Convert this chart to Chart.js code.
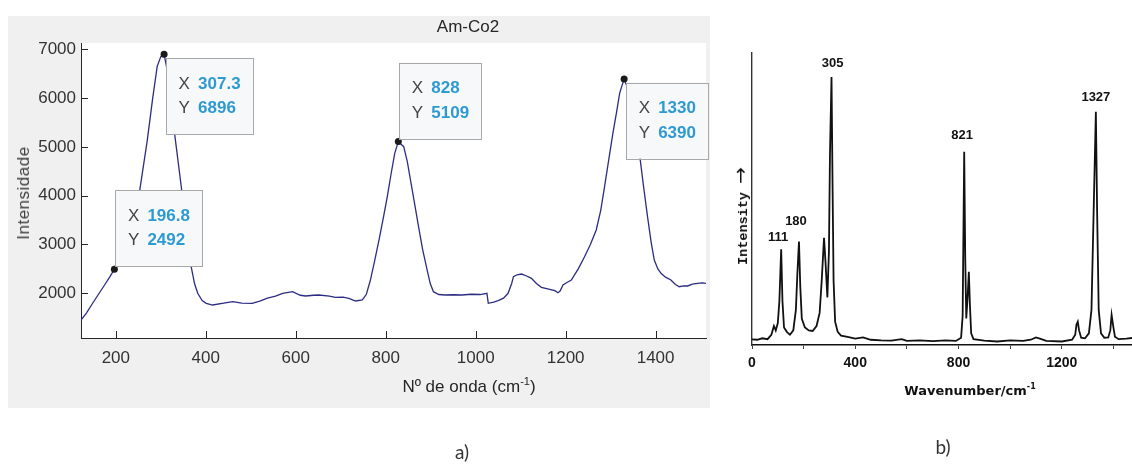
<!DOCTYPE html>
<html>
<head>
<meta charset="utf-8">
<script src="https://cdn.jsdelivr.net/npm/chart.js@4.4.1/dist/chart.umd.min.js"></script>
<style>
  body { margin: 0; width: 1132px; height: 464px; background: #fff; position: relative; overflow: hidden; font-family: "Liberation Sans", Arial, sans-serif; }
  #panelA { position: absolute; left: 8px; top: 16px; width: 702px; height: 392px; background: #f0f0f0; }
  #panelB { position: absolute; left: 720px; top: 0; width: 412px; height: 400px; }
  .lbl { position: absolute; white-space: nowrap; transform: translate(-50%, -50%); }
  .rot { transform: translate(-50%, -50%) rotate(-90deg); }
  sup { font-size: 11px; vertical-align: 7px; }
</style>
</head>
<body>
<div id="panelA"><canvas id="chartA" width="702" height="392"></canvas></div>
<div id="panelB"><canvas id="chartB" width="412" height="400"></canvas></div>

<div class="lbl" style="left:468px;top:27px;font-size:17px;color:#262626">Am-Co2</div>
<div class="lbl rot" style="left:24px;top:193px;font-size:17px;color:#404040;letter-spacing:0.5px">Intensidade</div>
<div class="lbl" style="left:469px;top:386px;font-size:17px;color:#262626">Nº de onda (cm<sup>-1</sup>)</div>
<div class="lbl" style="left:462px;top:451px;font-size:19px;color:#333;font-family:Lato, sans-serif">a)</div>

<div class="lbl rot" style="left:740px;top:216px;font-size:13.5px;color:#111;font-family:'Liberation Mono', monospace;font-weight:bold">Intensity <span style="font-size:20px;font-weight:normal;font-family:'DejaVu Sans', sans-serif">&rarr;</span></div>
<div class="lbl" style="left:970px;top:390px;font-size:13px;color:#111;font-weight:bold;font-family:'DejaVu Sans', sans-serif">Wavenumber/cm<sup style="font-size:8px;vertical-align:6px">-1</sup></div>
<div class="lbl" style="left:943px;top:446px;font-size:19px;color:#333;font-family:Lato, sans-serif">b)</div>

<script>
// a) measured spectrum
const aX = [122.6, 135, 146, 160, 175, 187, 196.8, 225, 253, 270, 282, 292, 300, 307.3, 318, 330.6, 345.5, 358, 367.5, 375,
  382, 392, 401, 415, 440, 460, 480, 503, 520, 537, 555, 571, 593, 610, 622, 640, 651, 675, 688, 705, 718, 733, 748, 757,
  766, 775, 785, 795, 803.5, 812, 820, 828, 840, 848, 855, 864, 873, 882, 892, 899, 906, 918, 932, 950, 969, 990, 1010,
  1025, 1028, 1040, 1050, 1062, 1072, 1080, 1084, 1092, 1102, 1112, 1124, 1135, 1146, 1160, 1176, 1183, 1188, 1194, 1203,
  1212.6, 1228, 1242, 1255, 1268, 1278, 1286.5, 1296, 1305, 1313, 1320, 1325, 1330, 1340, 1349, 1357, 1364, 1373, 1382,
  1390, 1397, 1405, 1412, 1422, 1434, 1444, 1452.6, 1462, 1471, 1482, 1493, 1504, 1512];
const aY = [1453, 1600, 1760, 1960, 2170, 2340, 2492, 3300, 4100, 5140, 6000, 6650, 6850, 6896, 6400, 5278, 4184, 3200, 2545, 2200,
  2000, 1850, 1795, 1760, 1800, 1828, 1800, 1795, 1840, 1900, 1940, 2000, 2033, 1960, 1945, 1960, 1965, 1940, 1918, 1920, 1898, 1842, 1863, 1980,
  2272, 2650, 3092, 3560, 3980, 4450, 4869, 5109, 5004, 4700, 4322, 3850, 3365, 2900, 2478, 2200, 2033, 1975, 1965, 1970, 1965, 1980, 1975,
  2000, 1795, 1820, 1850, 1900, 2000, 2200, 2340, 2380, 2395, 2360, 2307, 2200, 2122, 2090, 2053, 2012, 2050, 2170, 2220,
  2272, 2500, 2750, 3000, 3297, 3700, 4184, 4750, 5279, 5700, 6098, 6250, 6390, 6150, 5824, 5350, 4869, 4200, 3570,
  3050, 2682, 2500, 2410, 2330, 2272, 2180, 2135, 2150, 2150, 2190, 2205, 2215, 2205];
const aTipX = [196.8, 307.3, 828, 1330];
const aTipY = [2492, 6896, 5109, 6390];
const aXTicks = [200, 400, 600, 800, 1000, 1200, 1400];
const aYTicks = [2000, 3000, 4000, 5000, 6000, 7000];

// b) reference spectrum
const bX = [0, 20, 40, 60, 75, 85, 92, 100, 106, 113, 118, 124, 135, 147, 160, 170, 176, 182, 187, 193, 205, 220, 235, 250,
  262, 270, 279, 285, 292, 298, 302, 308, 312, 316, 322, 332, 345, 370, 400, 430, 460, 500, 540, 580, 600, 650, 700, 750,
  790, 810, 816, 822, 826, 830, 835, 840, 844, 849, 858, 900, 950, 1000, 1050, 1080, 1100, 1115, 1140, 1200, 1240, 1252,
  1257, 1262, 1267, 1275, 1290, 1305, 1315, 1322, 1332, 1337, 1343, 1352, 1365, 1380, 1388, 1393, 1400, 1406, 1420, 1450, 1472];
const bY = [1.9, 1.8, 2.3, 2.0, 3.5, 6.5, 5.0, 7.5, 15, 32.8, 15, 6, 4.5, 3.5, 5, 12, 25, 35.4, 20, 9, 6, 5, 4.8, 6.5,
  11, 22, 36.7, 28, 16.3, 32, 65, 91.8, 55, 22, 8, 4.5, 3.2, 2.8, 2.2, 2.6, 1.8, 1.6, 1.5, 2.0, 1.4, 1.6, 1.3, 1.6,
  1.4, 2.5, 10, 66.2, 30, 9.1, 16, 25.1, 14, 4, 2.0, 1.5, 1.2, 1.6, 1.4, 1.8, 2.6, 2.2, 1.4, 1.2, 1.8, 3.5,
  7, 8, 5, 2.5, 2.3, 4, 12, 40, 79.9, 45, 12, 4, 2.5, 2.6, 5, 10.3, 6, 2.8, 2.0, 2.2, 2.4];
const bXTicks = [0, 200, 400, 600, 800, 1000, 1200, 1400];
const bXLabels = ['0', '', '400', '', '800', '', '1200', ''];
const bPeakX = [113, 182, 308, 822, 1332];
const bPeakText = ['111', '180', '305', '821', '1327'];

const FONT = '"Liberation Sans", Arial, sans-serif';

const areaBg = {
  id: 'areaBg',
  beforeDraw(chart) {
    const { ctx, chartArea: a } = chart;
    ctx.save();
    ctx.fillStyle = '#fff';
    ctx.fillRect(a.left, a.top, a.right - a.left, a.bottom - a.top);
    ctx.restore();
  }
};

// matlab style ticks pointing inwards
const innerTicks = {
  id: 'innerTicks',
  afterDatasetsDraw(chart) {
    const { ctx, chartArea: a, scales: { x, y } } = chart;
    ctx.save();
    ctx.strokeStyle = '#262626';
    ctx.lineWidth = 1;
    ctx.beginPath();
    aXTicks.forEach(v => {
      const px = Math.round(x.getPixelForValue(v)) + 0.5;
      ctx.moveTo(px, a.bottom);
      ctx.lineTo(px, a.bottom - 7);
    });
    aYTicks.forEach(v => {
      const py = Math.round(y.getPixelForValue(v)) + 0.5;
      ctx.moveTo(a.left, py);
      ctx.lineTo(a.left + 7, py);
    });
    ctx.stroke();
    ctx.restore();
  }
};

// data tips
const dataTips = {
  id: 'dataTips',
  afterDraw(chart) {
    const { ctx, scales: { x, y } } = chart;
    const place = ['above', 'below', 'above', 'below'];
    ctx.save();
    aTipX.forEach((tx, i) => {
      const mx = x.getPixelForValue(tx);
      const my = y.getPixelForValue(aTipY[i]);
      const xs = String(tx), ys = String(aTipY[i]);
      ctx.font = 'bold 17px ' + FONT;
      const w = 44 + Math.max(ctx.measureText(xs).width, ctx.measureText(ys).width);
      const h = 76;
      const left = place[i] === 'above' ? mx + 1 : mx + 2;
      const top = place[i] === 'above' ? my - 79 : my + 3.5;
      ctx.fillStyle = '#f7f8fa';
      ctx.fillRect(left, top, w, h);
      ctx.strokeStyle = '#a8a8a8';
      ctx.lineWidth = 1;
      ctx.strokeRect(Math.round(left) + 0.5, Math.round(top) + 0.5, Math.round(w), h);
      ctx.textBaseline = 'middle';
      ctx.textAlign = 'left';
      ctx.font = '17px ' + FONT;
      ctx.fillStyle = '#444';
      ctx.fillText('X', left + 12.5, top + 26);
      ctx.fillText('Y', left + 12.5, top + 50.5);
      ctx.font = 'bold 17px ' + FONT;
      ctx.fillStyle = '#2e9ad2';
      ctx.fillText(xs, left + 32, top + 26);
      ctx.fillText(ys, left + 32, top + 50.5);
    });
    ctx.restore();
  }
};

const peakLabels = {
  id: 'peakLabels',
  afterDraw(chart) {
    const { ctx, scales: { x, y } } = chart;
    const lift = [12, 20, 14, 16, 14];
    const shift = [-3, -3, 1, -2, 0];
    ctx.save();
    ctx.font = 'bold 13px ' + FONT;
    ctx.fillStyle = '#111';
    ctx.textAlign = 'center';
    ctx.textBaseline = 'middle';
    bPeakX.forEach((px, i) => {
      const py = bY[bX.indexOf(px)];
      ctx.fillText(bPeakText[i], x.getPixelForValue(px) + shift[i], y.getPixelForValue(py) - lift[i]);
    });
    ctx.restore();
  }
};

new Chart(document.getElementById('chartA'), {
  type: 'line',
  data: {
    datasets: [
      {
        data: aTipX.map((v, i) => ({ x: v, y: aTipY[i] })),
        showLine: false,
        pointRadius: 3.5,
        pointBackgroundColor: '#1a1a1a',
        pointBorderColor: '#1a1a1a',
        pointBorderWidth: 0
      },
      {
        data: aX.map((v, i) => ({ x: v, y: aY[i] })),
        borderColor: '#2c2c82',
        borderWidth: 1.3,
        pointRadius: 0,
        tension: 0
      }
    ]
  },
  options: {
    responsive: false,
    animation: false,
    layout: { padding: { left: 0, top: 27, right: 1, bottom: 0 } },
    plugins: { legend: { display: false }, tooltip: { enabled: false } },
    scales: {
      x: {
        type: 'linear',
        min: 122.6,
        max: 1512,
        afterBuildTicks: s => { s.ticks = aXTicks.map(v => ({ value: v })); },
        afterFit: s => { s.height = 70; },
        grid: { display: false, drawTicks: false },
        border: { display: true, color: '#262626', width: 1 },
        ticks: { padding: 10, color: '#333', maxRotation: 0, autoSkip: false, font: { family: FONT, size: 17 }, callback: v => String(v) }
      },
      y: {
        min: 1084,
        max: 7129,
        afterBuildTicks: s => { s.ticks = aYTicks.map(v => ({ value: v })); },
        afterFit: s => { s.width = 73; },
        grid: { display: false, drawTicks: false },
        border: { display: true, color: '#262626', width: 1 },
        ticks: { padding: 5, color: '#333', font: { family: FONT, size: 17 }, callback: v => String(v) }
      }
    }
  },
  plugins: [areaBg, innerTicks, dataTips]
});

new Chart(document.getElementById('chartB'), {
  type: 'line',
  data: {
    datasets: [{
      data: bX.map((v, i) => ({ x: v, y: bY[i] })),
      borderColor: '#111',
      borderWidth: 1.8,
      pointRadius: 0,
      tension: 0
    }]
  },
  options: {
    responsive: false,
    animation: false,
    layout: { padding: { left: 0, top: 53, right: 0, bottom: 0 } },
    plugins: { legend: { display: false }, tooltip: { enabled: false } },
    scales: {
      x: {
        type: 'linear',
        min: 0,
        max: 1472,
        afterBuildTicks: s => { s.ticks = bXTicks.map(v => ({ value: v })); },
        afterFit: s => { s.height = 55; },
        grid: { display: true, drawOnChartArea: false, drawTicks: true, tickLength: 4, color: '#444' },
        border: { display: true, color: '#111', width: 1.6 },
        ticks: {
          padding: 6, color: '#111', maxRotation: 0, autoSkip: false,
          font: { family: FONT, size: 14, weight: 'bold' },
          callback: (v, i) => bXLabels[i]
        }
      },
      y: {
        min: 0,
        max: 100,
        afterFit: s => { s.width = 32; },
        grid: { display: false },
        ticks: { display: false },
        border: { display: true, color: '#333', width: 1.4 }
      }
    }
  },
  plugins: [peakLabels]
});
</script>
</body>
</html>
